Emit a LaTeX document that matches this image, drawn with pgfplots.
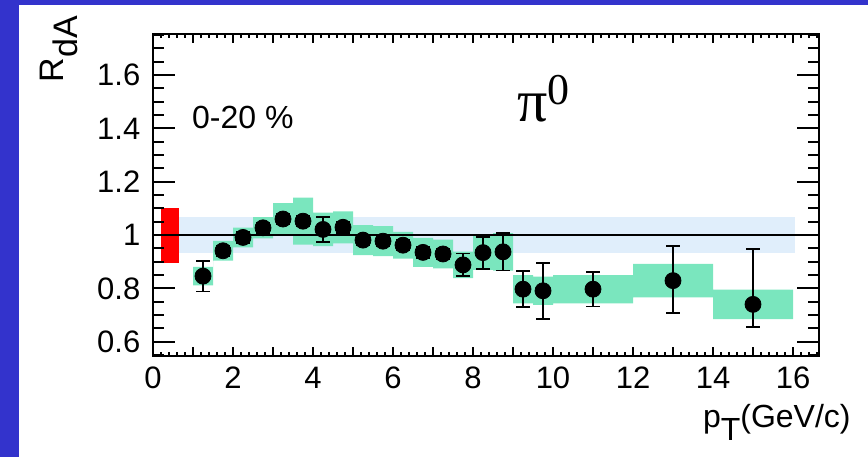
\documentclass[border=0pt]{standalone}
\usepackage{fontspec}
\setmainfont{Liberation Sans}
\newfontfamily\timesfont{Liberation Serif}
\usepackage{pgfplots}
\pgfplotsset{compat=1.18}
\definecolor{rdaborder}{RGB}{51,51,204}
\definecolor{rdasyst}{RGB}{122,230,190}
\definecolor{rdanorm}{RGB}{224,238,251}
\begin{document}
\begin{tikzpicture}
% frame ticks (axis: x 76.5pt..409.5pt, 20pt per unit; y -178pt..-17pt, 133.36pt per unit)
\begin{scope}[line width=0.9pt, black]
\foreach \i in {0,...,83} {
  \draw ({76.5pt+\i*4pt},-178pt) -- ++(0,2.2pt);
  \draw ({76.5pt+\i*4pt},-17pt) -- ++(0,-2.2pt);
}
\foreach \i in {0,...,16} {
  \draw ({76.5pt+\i*20pt},-178pt) -- ++(0,4.3pt);
  \draw ({76.5pt+\i*20pt},-17pt) -- ++(0,-4.3pt);
}
\foreach \k in {0,...,24} {
  \draw (76.5pt,{-177.52pt+\k*6.668pt}) -- ++(5.5pt,0);
  \draw (409.5pt,{-177.52pt+\k*6.668pt}) -- ++(-5.5pt,0);
}
\foreach \j in {0,...,5} {
  \draw (76.5pt,{-170.852pt+\j*26.672pt}) -- ++(11pt,0);
  \draw (409.5pt,{-170.852pt+\j*26.672pt}) -- ++(-11pt,0);
}
\end{scope}
% axis carrying the data and the x tick labels
\begin{axis}[at={(76.5pt,-178pt)}, anchor=south west,
  scale only axis, width=333pt, height=161pt,
  xmin=0, xmax=16.65, ymin=0.5464, ymax=1.7537,
  xtick={0,1,...,16},
  xticklabels={0,,2,,4,,6,,8,,10,,12,,14,,16},
  minor x tick num=4,
  ytick={0}, yticklabels={},
  major tick length=4.3pt, minor tick length=2.2pt,
  every tick/.style={black, line width=0.9pt},
  axis line style={line width=1.2pt, black},
  ticklabel style={font=\fontsize{15.5pt}{18pt}\selectfont},
  xticklabel style={yshift=-2pt},
]
% normalization band
\addplot[draw=none, fill=rdanorm] coordinates {(0.65,0.931)(16.05,0.931)(16.05,1.069)(0.65,1.069)} --cycle;
% systematic boxes
\addplot[draw=none, fill=rdasyst] coordinates {
(1,0.881)(1.5,0.881)(1.5,0.978)(2,0.978)(2,1.028)(2.5,1.028)(2.5,1.067)(3,1.067)(3,1.12)(3.5,1.12)(3.5,1.14)(4,1.14)(4,1.084)(4.5,1.084)(4.5,1.089)(5,1.089)(5,1.037)(5.5,1.037)(5.5,1.033)(6,1.033)(6,1.012)(6.5,1.012)(6.5,0.989)(7,0.989)(7,0.983)(7.5,0.983)(7.5,0.938)(8,0.938)(8,0.999)(8.5,0.999)(8.5,1.007)(9,1.007)
(9,0.867)(8.5,0.867)(8.5,0.869)(8,0.869)(8,0.838)(7.5,0.838)(7.5,0.875)(7,0.875)(7,0.881)(6.5,0.881)(6.5,0.912)(6,0.912)(6,0.921)(5.5,0.921)(5.5,0.925)(5,0.925)(5,0.969)(4.5,0.969)(4.5,0.958)(4,0.958)(4,0.964)(3.5,0.964)(3.5,1.0)(3,1.0)(3,0.987)(2.5,0.987)(2.5,0.954)(2,0.954)(2,0.904)(1.5,0.904)(1.5,0.811)(1,0.811)
} --cycle;
\addplot[draw=none, fill=rdasyst] coordinates {
(9,0.85)(9.5,0.85)(9.5,0.844)(10,0.844)(10,0.85)(12,0.85)(12,0.892)(14,0.892)(14,0.795)(16,0.795)
(16,0.685)(14,0.685)(14,0.766)(12,0.766)(12,0.744)(10,0.744)(10,0.738)(9.5,0.738)(9.5,0.744)(9,0.744)
} --cycle;
% global normalization uncertainty (red)
\addplot[draw=none, fill=red] coordinates {(0.2,0.897)(0.65,0.897)(0.65,1.103)(0.2,1.103)} --cycle;
% unity line
\addplot[black, line width=1pt] coordinates {(0,1)(16.65,1)};
% data
\addplot[only marks, mark=*, mark size=4pt, black,
  error bars/.cd, y dir=both, y explicit,
  error bar style={line width=0.9pt, black},
  error mark options={rotate=90, mark size=3.3pt, line width=0.9pt, black}]
coordinates {
(1.25,0.846) +- (0,0.058)
(1.75,0.941) +- (0,0.02)
(2.25,0.991) +- (0,0.02)
(2.75,1.027) +- (0,0.02)
(3.25,1.060) +- (0,0.02)
(3.75,1.052) +- (0,0.02)
(4.25,1.021) +- (0,0.046)
(4.75,1.029) +- (0,0.02)
(5.25,0.981) +- (0,0.02)
(5.75,0.977) +- (0,0.02)
(6.25,0.962) +- (0,0.02)
(6.75,0.935) +- (0,0.02)
(7.25,0.929) +- (0,0.02)
(7.75,0.888) +- (0,0.043)
(8.25,0.934) +- (0,0.060)
(8.75,0.937) +- (0,0.070)
(9.25,0.797) +- (0,0.068)
(9.75,0.791) +- (0,0.105)
(11,0.797) +- (0,0.065)
(13,0.829) += (0,0.130) -= (0,0.120)
(15,0.740) += (0,0.207) -= (0,0.085)
};
\node[anchor=west, inner sep=0pt, font=\fontsize{16pt}{18pt}\selectfont] at (axis cs:0.97,1.442) {0-20 \%};
\node[anchor=base west, inner sep=0pt] at (axis cs:9.1,1.424)
  {\timesfont\fontsize{30pt}{30pt}\selectfont π\raisebox{8.5pt}{\fontsize{22pt}{22pt}\selectfont 0}};
\end{axis}
% axis carrying the y tick labels
\begin{axis}[at={(76.5pt,-178pt)}, anchor=south west,
  scale only axis, width=333pt, height=161pt,
  xmin=0, xmax=16.65, ymin=0.5464, ymax=1.7537,
  xtick={-5}, xticklabels={},
  ytick={0.6,0.8,1,1.2,1.4,1.6},
  yticklabels={0.6,0.8,1,1.2,1.4,1.6},
  minor y tick num=3,
  major tick length=11pt, minor tick length=5.5pt,
  every tick/.style={black, line width=0.9pt},
  axis line style={line width=1.2pt, black},
  ticklabel style={font=\fontsize{15.5pt}{18pt}\selectfont},
  yticklabel style={xshift=-2.8pt},
]
\end{axis}
\draw[line width=1.2pt, black] (76.5pt,-178pt) rectangle (409.5pt,-17pt);
\node[rotate=90, inner sep=0pt, font=\fontsize{17pt}{18pt}\selectfont] at (29.5pt,-24.5pt) {R\raisebox{-7pt}{dA}};
\node[anchor=base east, inner sep=0pt, font=\fontsize{16pt}{18pt}\selectfont] at (425.5pt,-213.5pt) {p\raisebox{-6.5pt}{T}(GeV/c)};
% page frame: blue strips at left and top
\fill[rdaborder] (0,0) rectangle (9.5pt,-228.5pt);
\fill[rdaborder] (0,0) rectangle (434pt,-2.5pt);
\path (0,0) rectangle (434pt,-228.5pt);
\end{tikzpicture}
\end{document}
